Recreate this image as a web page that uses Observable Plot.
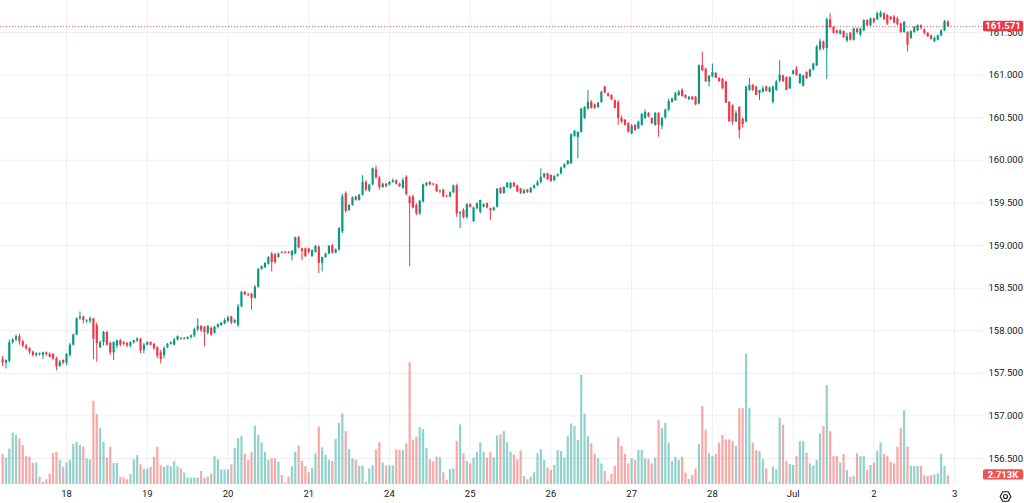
<!DOCTYPE html>
<html><head><meta charset="utf-8">
<script src="https://cdn.jsdelivr.net/npm/d3@7"></script>
<script src="https://cdn.jsdelivr.net/npm/@observablehq/plot@0.6"></script>
<style>
html,body{margin:0;padding:0;background:#fff;}
#chart{position:relative;width:1024px;height:503px;overflow:hidden;}
#chart svg{position:absolute;left:0;top:0;}
</style></head><body><div id="chart"></div>
<script>
// Hourly candles, index 0 = Jun 17 05:00, index 281 = Jul 2 22:00
const open = [
157.66,157.62,157.64,157.86,157.89,157.93,157.87,157.82,157.79,157.75,
157.71,157.73,157.71,157.74,157.72,157.72,157.67,157.58,157.65,157.62,
157.71,157.83,157.95,158.14,158.16,158.11,158.11,158.14,158.06,157.80,
157.86,157.98,157.85,157.74,157.82,157.88,157.86,157.85,157.82,157.86,
157.88,157.90,157.77,157.83,157.86,157.84,157.80,157.74,157.71,157.80,
157.84,157.83,157.89,157.91,157.90,157.90,157.92,157.94,158.01,158.05,
158.04,157.97,158.03,157.97,158.04,158.06,158.08,158.11,158.16,158.09,
158.06,158.28,158.45,158.42,158.43,158.38,158.51,158.72,158.74,158.78,
158.90,158.89,158.86,158.92,158.92,158.92,158.88,158.90,159.09,158.96,
158.96,158.96,158.87,158.92,158.98,158.79,158.86,158.90,159.00,158.91,
158.95,159.16,159.61,159.41,159.47,159.57,159.53,159.59,159.74,159.64,
159.71,159.89,159.79,159.68,159.72,159.71,159.74,159.76,159.72,159.67,
159.80,159.57,159.57,159.47,159.37,159.51,159.70,159.74,159.72,159.71,
159.63,159.65,159.58,159.57,159.62,159.70,159.37,159.41,159.33,159.48,
159.28,159.43,159.39,159.45,159.49,159.43,159.41,159.45,159.67,159.61,
159.68,159.67,159.73,159.70,159.66,159.61,159.65,159.62,159.67,159.70,
159.74,159.80,159.84,159.82,159.76,159.81,159.84,159.91,159.95,159.96,
160.28,160.27,160.33,160.49,160.60,160.68,160.65,160.62,160.68,160.86,
160.78,160.76,160.70,160.68,160.49,160.47,160.43,160.31,160.41,160.37,
160.41,160.49,160.55,160.49,160.41,160.55,160.40,160.50,160.59,160.68,
160.70,160.76,160.82,160.76,160.71,160.74,160.74,160.66,161.11,161.07,
160.92,160.98,161.02,160.96,160.95,160.92,160.68,160.64,160.45,160.62,
160.48,160.45,160.82,160.88,160.86,160.78,160.80,160.86,160.80,160.68,
160.82,160.93,160.99,160.97,160.84,161.01,161.07,160.90,160.87,161.03,
160.98,161.06,161.11,161.30,161.39,161.31,161.65,161.56,161.52,161.48,
161.51,161.40,161.49,161.41,161.54,161.47,161.52,161.64,161.58,161.66,
161.65,161.68,161.72,161.70,161.68,161.68,161.66,161.60,161.50,161.50,
161.43,161.50,161.52,161.58,161.53,161.49,161.46,161.39,161.41,161.46,
161.52,161.62];
const high = [
157.70,157.66,157.89,157.91,157.95,157.96,157.89,157.84,157.80,157.76,
157.74,157.74,157.75,157.75,157.74,157.73,157.69,157.65,157.66,157.73,
157.85,157.96,158.15,158.22,158.17,158.13,158.16,158.14,158.09,157.88,
157.99,157.99,157.87,157.87,157.89,157.90,157.87,157.86,157.87,157.89,
157.92,157.91,157.85,157.87,157.87,157.85,157.81,157.77,157.81,157.85,
157.87,157.91,157.94,157.92,157.92,157.93,157.95,158.03,158.14,158.06,
158.05,158.06,158.04,158.05,158.08,158.10,158.14,158.17,158.17,158.13,
158.31,158.46,158.46,158.44,158.44,158.53,158.73,158.76,158.80,158.87,
158.92,158.91,158.91,158.93,158.93,158.93,158.94,159.10,159.11,158.97,
158.97,158.97,158.95,159.00,159.00,158.86,158.91,159.00,159.01,158.96,
159.21,159.60,159.63,159.48,159.57,159.58,159.60,159.82,159.76,159.72,
159.91,159.93,159.81,159.73,159.73,159.75,159.78,159.77,159.73,159.79,
159.82,159.58,159.59,159.49,159.53,159.72,159.74,159.75,159.73,159.72,
159.65,159.66,159.59,159.63,159.71,159.72,159.39,159.43,159.49,159.49,
159.45,159.50,159.53,159.49,159.50,159.44,159.45,159.67,159.68,159.69,
159.74,159.74,159.74,159.71,159.67,159.66,159.66,159.68,159.71,159.76,
159.90,159.84,159.85,159.83,159.82,159.84,159.92,159.96,160.00,160.31,
160.35,160.33,160.61,160.63,160.82,160.70,160.66,160.68,160.81,160.87,
160.79,160.77,160.71,160.70,160.52,160.48,160.44,160.42,160.42,160.46,
160.55,160.59,160.56,160.50,160.56,160.56,160.50,160.60,160.72,160.73,
160.80,160.82,160.84,160.77,160.75,160.75,160.75,161.12,161.27,161.08,
160.99,161.13,161.03,160.97,160.96,160.93,160.69,160.65,160.58,160.63,
160.50,160.87,160.96,160.89,160.87,160.82,160.87,160.87,160.86,160.87,
160.94,161.17,161.00,160.98,160.98,161.05,161.10,161.01,161.00,161.04,
161.07,161.14,161.35,161.42,161.40,161.67,161.72,161.57,161.53,161.53,
161.52,161.49,161.50,161.55,161.55,161.55,161.65,161.65,161.67,161.67,
161.74,161.75,161.73,161.71,161.69,161.70,161.68,161.61,161.63,161.51,
161.52,161.57,161.59,161.59,161.54,161.50,161.47,161.45,161.47,161.53,
161.64,161.64];
const low = [
157.58,157.55,157.62,157.84,157.87,157.83,157.80,157.77,157.72,157.69,
157.69,157.70,157.66,157.70,157.68,157.65,157.53,157.57,157.60,157.59,
157.69,157.82,157.94,158.12,158.08,158.08,158.08,157.66,157.63,157.79,
157.82,157.82,157.71,157.65,157.79,157.81,157.82,157.80,157.80,157.84,
157.86,157.73,157.73,157.82,157.82,157.77,157.67,157.61,157.67,157.79,
157.83,157.82,157.88,157.89,157.89,157.89,157.90,157.92,157.99,157.98,
157.81,157.95,157.93,157.96,158.02,158.05,158.07,158.09,158.07,158.08,
158.04,158.27,158.41,158.40,158.24,158.37,158.50,158.71,158.73,158.77,
158.69,158.78,158.85,158.90,158.90,158.90,158.82,158.89,158.96,158.82,
158.86,158.90,158.86,158.91,158.67,158.69,158.85,158.89,158.90,158.90,
158.93,159.14,159.38,159.40,159.46,159.52,159.52,159.58,159.63,159.62,
159.70,159.78,159.65,159.67,159.68,159.70,159.73,159.71,159.68,159.66,
159.58,158.75,159.43,159.35,159.35,159.50,159.69,159.70,159.70,159.62,
159.61,159.56,159.56,159.56,159.61,159.33,159.20,159.31,159.31,159.44,
159.27,159.42,159.37,159.44,159.43,159.29,159.40,159.44,159.60,159.60,
159.67,159.66,159.68,159.62,159.60,159.60,159.61,159.61,159.66,159.69,
159.72,159.78,159.76,159.74,159.75,159.80,159.83,159.90,159.94,159.95,
160.27,160.02,160.32,160.48,160.59,160.60,160.60,160.61,160.67,160.78,
160.74,160.70,160.60,160.41,160.43,160.40,160.32,160.30,160.34,160.36,
160.40,160.48,160.50,160.42,160.40,160.27,160.36,160.48,160.57,160.67,
160.69,160.75,160.74,160.72,160.70,160.70,160.64,160.65,161.04,160.92,
160.86,160.97,160.96,160.92,160.83,160.67,160.45,160.41,160.44,160.25,
160.38,160.44,160.81,160.81,160.76,160.70,160.79,160.80,160.79,160.66,
160.81,160.91,160.92,160.82,160.83,161.00,160.99,160.89,160.86,160.95,
160.97,161.05,161.10,161.28,161.29,160.95,161.54,161.48,161.48,161.47,
161.43,161.38,161.40,161.40,161.48,161.45,161.51,161.57,161.57,161.60,
161.64,161.67,161.64,161.58,161.64,161.60,161.58,161.49,161.49,161.27,
161.42,161.49,161.51,161.53,161.47,161.44,161.41,161.38,161.40,161.45,
161.51,161.56];
const close = [
157.62,157.65,157.86,157.89,157.93,157.87,157.82,157.79,157.75,157.71,
157.73,157.72,157.74,157.72,157.69,157.67,157.58,157.63,157.62,157.72,
157.83,157.95,158.14,158.16,158.12,158.12,158.14,157.90,157.85,157.86,
157.98,157.83,157.74,157.86,157.88,157.83,157.84,157.82,157.86,157.88,
157.90,157.76,157.83,157.86,157.83,157.79,157.70,157.66,157.79,157.84,
157.86,157.89,157.93,157.90,157.91,157.92,157.94,158.01,158.05,158.00,
157.98,158.05,157.95,158.04,158.07,158.09,158.12,158.15,158.09,158.12,
158.28,158.45,158.42,158.41,158.38,158.51,158.72,158.75,158.79,158.86,
158.80,158.80,158.90,158.91,158.91,158.91,158.93,159.09,158.97,158.93,
158.87,158.92,158.94,158.99,158.79,158.86,158.90,158.99,158.91,158.95,
159.20,159.57,159.40,159.47,159.56,159.53,159.59,159.74,159.65,159.71,
159.90,159.79,159.68,159.72,159.69,159.74,159.76,159.72,159.69,159.76,
159.60,159.49,159.44,159.37,159.52,159.71,159.73,159.71,159.71,159.63,
159.64,159.57,159.57,159.62,159.70,159.37,159.39,159.33,159.48,159.45,
159.44,159.49,159.53,159.48,159.44,159.41,159.44,159.66,159.61,159.68,
159.73,159.73,159.69,159.63,159.61,159.64,159.62,159.67,159.70,159.74,
159.80,159.84,159.77,159.75,159.81,159.83,159.91,159.95,159.99,160.30,
160.34,160.33,160.60,160.62,160.68,160.61,160.61,160.67,160.80,160.79,
160.75,160.71,160.61,160.49,160.45,160.41,160.33,160.40,160.35,160.45,
160.54,160.56,160.51,160.43,160.55,160.41,160.49,160.59,160.69,160.72,
160.78,160.80,160.75,160.73,160.74,160.71,160.65,161.11,161.05,160.92,
160.99,161.03,160.96,160.92,160.84,160.67,160.45,160.45,160.55,160.35,
160.42,160.86,160.88,160.82,160.76,160.82,160.84,160.81,160.85,160.86,
160.92,161.00,160.92,160.82,160.97,161.05,160.99,161.01,160.99,160.96,
161.06,161.13,161.33,161.39,161.31,161.65,161.56,161.49,161.49,161.52,
161.44,161.45,161.41,161.54,161.50,161.54,161.64,161.58,161.66,161.62,
161.72,161.73,161.65,161.60,161.65,161.61,161.59,161.50,161.62,161.35,
161.51,161.56,161.58,161.55,161.49,161.45,161.42,161.43,161.46,161.52,
161.63,161.571];
// volume in thousands
const volume = [
9.5,8.3,11.2,16.2,15.5,14.4,12.3,8.8,8.6,6.7,
6.7,2.3,0.8,1.5,3.3,9.8,10.2,7.6,5.4,6.7,
7.6,12.6,13.3,12.3,11.8,8.1,7.8,26.3,22.1,17.6,
13.3,8.3,11.8,6.7,6.7,2.3,2.1,1.5,3.1,7.8,
9.1,6.2,4.8,4.8,5.4,8.6,11.8,5.9,5.4,5.9,
5.6,7.2,5.6,4.9,3.6,2.1,2.0,2.0,2.0,4.1,
2.0,2.3,3.2,8.8,7.8,4.6,4.6,4.6,6.2,11.4,
14.4,15.2,9.5,7.6,10.0,18.4,15.5,13.2,10.2,7.6,
8.1,8.1,7.1,2.8,0.4,2.3,5.6,10.2,12.1,7.3,
5.6,3.7,5.1,9.7,18.1,11.6,9.2,7.6,7.3,14.2,
19.3,22.3,16.7,11.0,8.1,7.6,5.8,5.8,0.7,4.9,
5.9,10.9,13.2,6.8,5.8,5.9,5.9,10.9,10.7,10.7,
12.8,38.4,13.9,14.9,17.9,17.3,11.3,7.8,7.1,8.6,
8.4,3.7,1.3,4.7,4.9,13.6,18.8,9.7,7.3,6.5,
8.3,10.2,13.1,10.2,8.3,10.0,8.4,15.3,15.7,16.7,
13.2,10.2,9.3,7.8,10.6,2.5,1.5,2.3,3.7,9.7,
11.0,7.6,5.2,4.4,6.0,10.7,10.4,8.3,15.1,19.1,
18.3,13.9,34.4,22.2,15.1,12.8,9.5,8.1,6.5,4.1,
1.0,3.2,5.7,14.7,12.0,9.5,6.5,8.1,7.6,10.7,
10.7,8.1,7.8,6.5,8.3,20.2,17.6,19.3,13.0,7.2,
8.6,7.6,8.6,3.6,1.6,2.8,4.9,12.6,24.6,17.1,
9.7,8.8,9.5,13.0,15.5,14.1,14.1,13.6,12.0,23.9,
23.9,41.2,24.1,13.0,10.7,10.4,7.8,4.9,0.7,5.5,
4.6,20.9,18.7,7.3,6.3,6.0,8.8,13.5,13.5,9.9,
6.5,5.8,7.6,16.0,18.3,31.2,16.7,8.8,8.8,6.7,
9.5,4.4,2.3,2.5,9.7,8.8,8.8,4.4,6.0,6.7,
10.5,13.1,9.5,8.8,7.0,6.5,11.8,17.6,23.3,11.8,
5.8,5.7,5.7,5.7,2.8,2.5,2.8,3.0,3.4,9.5,
5.7,2.713];
const dayTickIndex = [19,43,67,91,115,139,163,187,211,235,259,283];
const dayTickLabels = ["18","19","20","21","24","25","26","27","28","Jul","2","3"];
const priceTicks = [156.5,157,157.5,158,158.5,159,159.5,160,160.5,161,161.5];

const UP = "#089981", DOWN = "#f23645";
const VUP = "rgba(38,166,154,0.5)", VDOWN = "rgba(239,83,80,0.5)";
const GRID = "#eceff3", TEXT = "#131722";
const FONT = "Roboto, 'Liberation Sans', sans-serif";
const W = 1024, H = 503, MR = 41, MB = 19;
const paneRight = W - MR;
const xDomain = [-0.624, 291.59];
const priceDomain = [156.1948, 161.8756];
const volDomain = [0, 152.7];

const candles = open.map((o, i) => ({
  i, o, h: high[i], l: low[i], c: close[i], v: volume[i], up: close[i] >= o
}));
const lastPrice = close[close.length - 1];
const lastVol = volume[volume.length - 1];

const price = Plot.plot({
  width: W, height: H, marginLeft: 0, marginRight: MR, marginTop: 0, marginBottom: MB,
  style: {fontFamily: FONT, fontSize: "9.5px", color: TEXT, background: "transparent", overflow: "visible"},
  x: {type: "linear", domain: xDomain, label: null},
  y: {domain: priceDomain, label: null},
  color: {type: "identity"},
  marks: [
    Plot.ruleY(priceTicks, {stroke: GRID, strokeWidth: 1}),
    Plot.ruleX(dayTickIndex, {stroke: GRID, strokeWidth: 1}),
    Plot.axisY(priceTicks, {anchor: "right", tickSize: 0, tickPadding: 5, textAnchor: "start",
      tickFormat: d3.format(".3f"), fill: TEXT, label: null}),
    Plot.axisX(dayTickIndex, {anchor: "bottom", tickSize: 0, tickPadding: 6, fill: TEXT, label: null,
      tickFormat: d => dayTickLabels[dayTickIndex.indexOf(d)]}),
    Plot.ruleY([lastPrice], {stroke: DOWN, strokeWidth: 1, strokeDasharray: "1 2", strokeOpacity: 0.8}),
    Plot.ruleX(candles, {x: "i", y1: "l", y2: "h", stroke: d => d.up ? UP : DOWN, strokeWidth: 1}),
    Plot.ruleX(candles, {x: "i", y1: d => Math.min(d.o, d.c), y2: d => Math.max(d.o, d.c),
      stroke: d => d.up ? UP : DOWN, strokeWidth: 2.2})
  ]
});

const vol = Plot.plot({
  width: W, height: H, marginLeft: 0, marginRight: MR, marginTop: 0, marginBottom: MB,
  style: {fontFamily: FONT, background: "transparent", overflow: "visible"},
  x: {type: "linear", domain: xDomain, axis: null},
  y: {domain: volDomain, axis: null},
  color: {type: "identity"},
  marks: [
    Plot.ruleX(candles, {x: "i", y1: 0, y2: "v", stroke: d => d.up ? VUP : VDOWN, strokeWidth: 2.2})
  ]
});

const chart = document.getElementById("chart");
chart.appendChild(price);
chart.appendChild(vol);

// last price label box
const py = price.scale("y").apply(lastPrice);
const ps = d3.select(price);
ps.append("rect").attr("x", paneRight).attr("y", py - 5.2).attr("width", 40).attr("height", 10.4)
  .attr("rx", 1.5).attr("fill", DOWN);
ps.append("text").attr("x", paneRight + 20).attr("y", py).attr("dy", "0.36em")
  .attr("text-anchor", "middle").attr("fill", "#fff").attr("font-size", "9.5px")
  .attr("font-weight", "bold").attr("font-family", FONT).text(d3.format(".3f")(lastPrice));

// last volume label box
const vy = vol.scale("y").apply(lastVol);
const vs = d3.select(vol);
vs.append("rect").attr("x", paneRight).attr("y", vy - 6.2).attr("width", 40).attr("height", 10.4)
  .attr("rx", 1.5).attr("fill", "#f05350");
vs.append("text").attr("x", paneRight + 20).attr("y", vy - 1).attr("dy", "0.36em")
  .attr("text-anchor", "middle").attr("fill", "#fff").attr("font-size", "9.5px")
  .attr("font-weight", "bold").attr("font-family", FONT).text(lastVol.toFixed(3) + "K");

// settings icon (decoration)
const gx = 1005.5, gy = 496.5, gr = 5.4;
const hex = d3.range(6).map(k => [gx + gr * Math.cos(k * Math.PI / 3), gy + gr * Math.sin(k * Math.PI / 3)]);
vs.append("polygon").attr("points", hex.map(p => p.join(",")).join(" "))
  .attr("fill", "none").attr("stroke", TEXT).attr("stroke-width", 1.1).attr("stroke-linejoin", "round");
vs.append("circle").attr("cx", gx).attr("cy", gy).attr("r", 2).attr("fill", "none")
  .attr("stroke", TEXT).attr("stroke-width", 1.1);
</script>
</body></html>
